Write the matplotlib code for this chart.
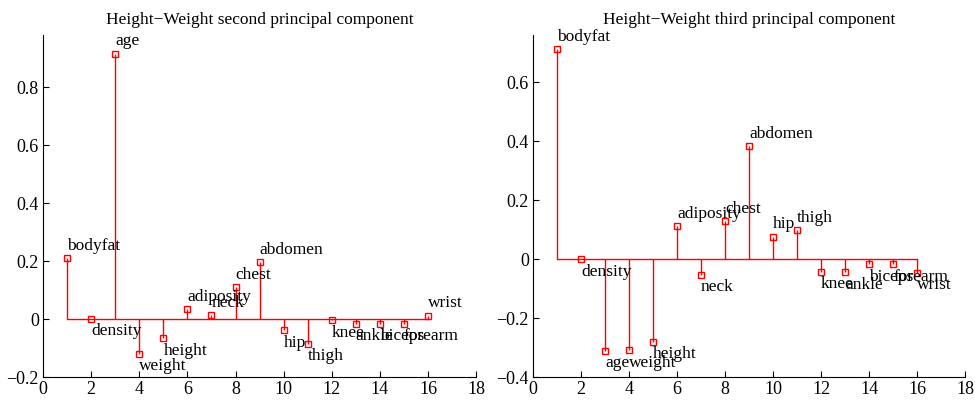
import numpy as np
import matplotlib
matplotlib.use("Agg")
import matplotlib.pyplot as plt

names = ['bodyfat', 'density', 'age', 'weight', 'height', 'adiposity', 'neck',
         'chest', 'abdomen', 'hip', 'thigh', 'knee', 'ankle', 'biceps',
         'forearm', 'wrist']

# loadings
pc2 = [0.210, 0.000, 0.916, -0.120, -0.067, 0.035, 0.014, 0.110, 0.197,
       -0.039, -0.086, -0.005, -0.017, -0.017, -0.017, 0.012]
pc3 = [0.712, -0.001, -0.311, -0.310, -0.281, 0.113, -0.053, 0.129, 0.382,
       0.076, 0.099, -0.043, -0.045, -0.018, -0.018, -0.047]

titles = ['Height\u2212Weight second principal component',
          'Height\u2212Weight third principal component']
ylims = [(-0.2, 0.98), (-0.4, 0.76)]
yticks = [[-0.2, 0, 0.2, 0.4, 0.6, 0.8], [-0.4, -0.2, 0, 0.2, 0.4, 0.6]]

plt.rcParams['font.family'] = ['Liberation Serif', 'DejaVu Serif']
plt.rcParams['font.size'] = 12.5

fig = plt.figure(figsize=(9.75, 4.0), dpi=100)
positions = [[0.0441, 0.0575, 0.4443, 0.855], [0.5467, 0.0575, 0.4431, 0.855]]


def fmt(t):
    if t == 0:
        return '0'
    return f'{t:g}'.replace('-', '\u2212')


for k, vals in enumerate([pc2, pc3]):
    ax = fig.add_axes(positions[k])
    x = np.arange(1, len(vals) + 1)
    ml, sl, bl = ax.stem(x, vals, basefmt='r-')
    plt.setp(sl, color='red', linewidth=1.0)
    plt.setp(bl, color='red', linewidth=1.0)
    plt.setp(ml, marker='s', markersize=4.5, markerfacecolor='none',
             markeredgecolor='red', markeredgewidth=1.0)
    for xi, v, n in zip(x, vals, names):
        if v > 0:
            ax.annotate(n, (xi, v), xytext=(0, 3), textcoords='offset points',
                        ha='left', va='bottom', fontsize=12.5)
        else:
            ax.annotate(n, (xi, v), xytext=(0, -3), textcoords='offset points',
                        ha='left', va='top', fontsize=12.5)
    ax.set_xlim(0, 18)
    ax.set_ylim(*ylims[k])
    ax.set_xticks(range(0, 19, 2))
    ax.set_yticks(yticks[k])
    ax.set_yticklabels([fmt(t) for t in yticks[k]])
    ax.spines['top'].set_visible(False)
    ax.spines['right'].set_visible(False)
    ax.tick_params(direction='in', length=4, width=0.8, labelsize=13, pad=3)
    ax.set_title(titles[k], fontsize=12.5, pad=8)

fig.savefig('out.png', dpi=100)
